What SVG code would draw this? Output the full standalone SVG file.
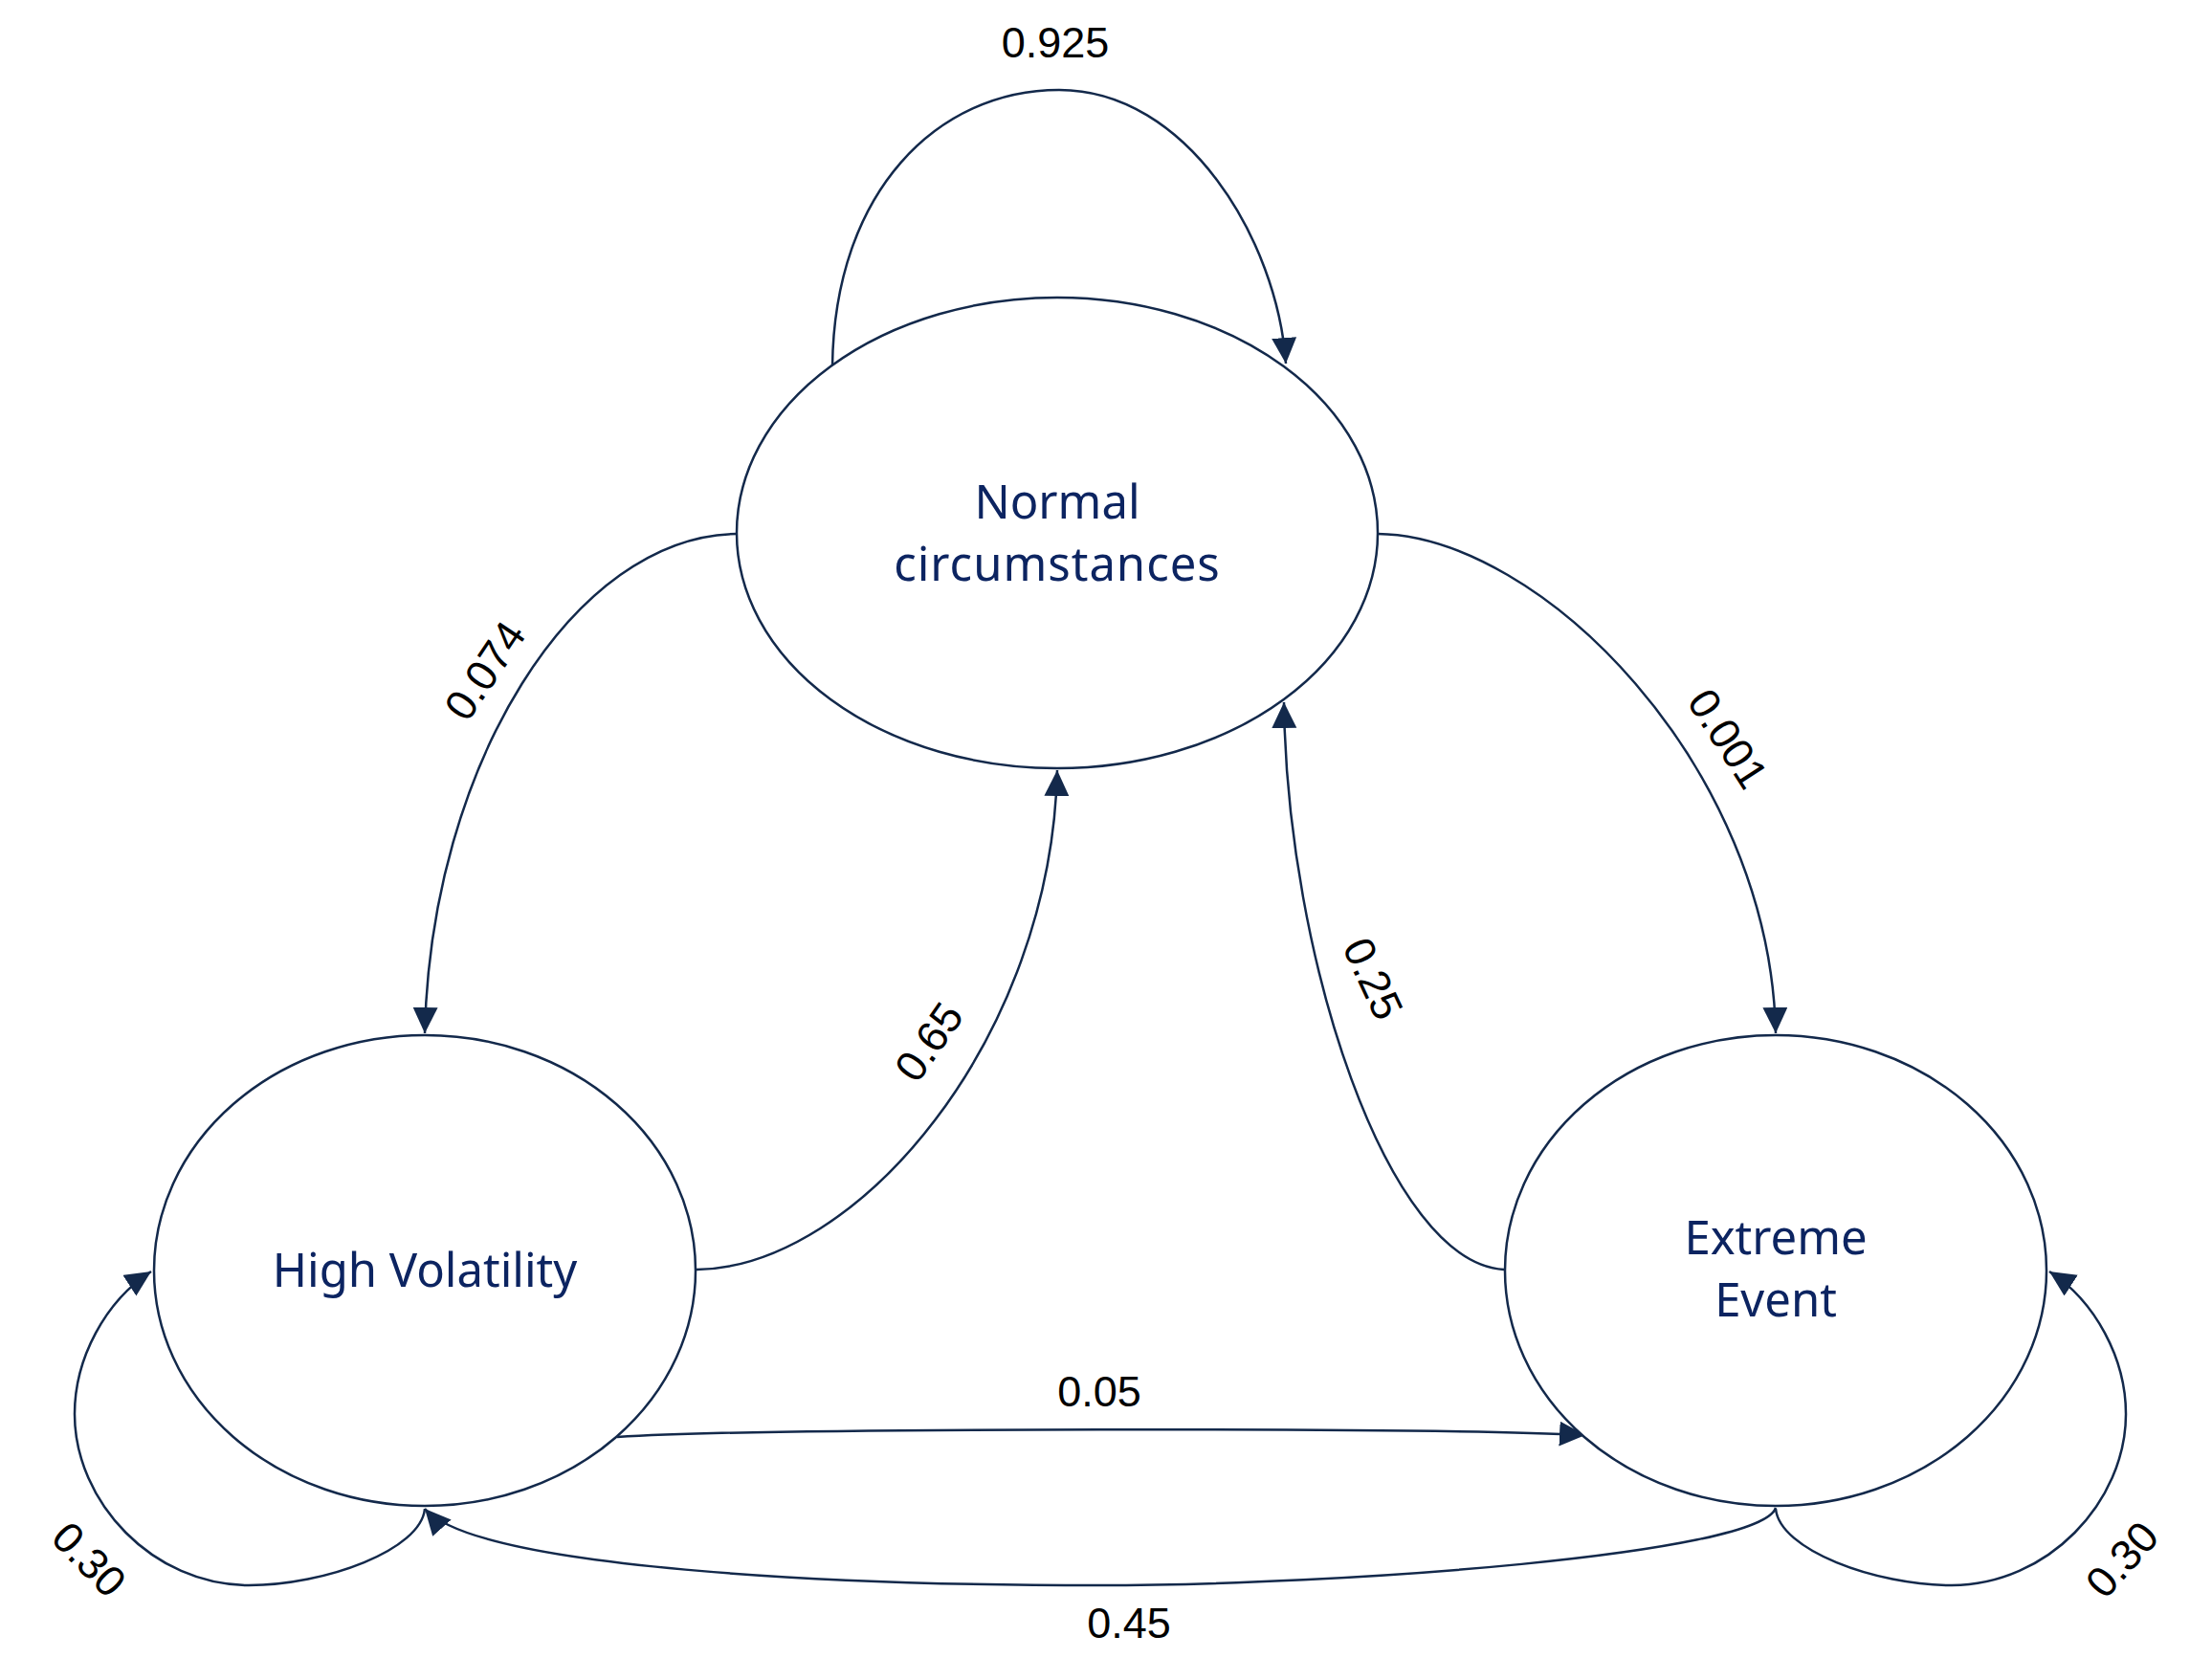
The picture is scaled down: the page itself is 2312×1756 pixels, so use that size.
<svg xmlns="http://www.w3.org/2000/svg" width="2312" height="1756" viewBox="0 0 2312 1756">
<style>
.node{fill:#ffffff;stroke:#13294b;stroke-width:2.5}
.ntext{font-family:"Noto Sans","Liberation Sans",sans-serif;font-size:49px;fill:#0c2461;text-anchor:middle}
.edge{fill:none;stroke:#13294b;stroke-width:2.5}
.elabel{font-family:"Liberation Sans",Arial,sans-serif;font-size:45px;fill:#000000;text-anchor:middle}
</style>
<defs>
<marker id="arrow" markerUnits="userSpaceOnUse" markerWidth="30" markerHeight="30" refX="27" refY="13" orient="auto">
<path d="M0,0 L27,13 L0,26 Z" fill="#13294b"/>
</marker>
</defs>
<rect width="2312" height="1756" fill="#ffffff"/>
<g id="connectors">
<path class="edge" marker-end="url(#arrow)" d="M870,383 C872,200 980,94 1107,94 C1240,94 1335,250 1344,380"/>
<path class="edge" marker-end="url(#arrow)" d="M770,558 C600,560 450,800 444,1080"/>
<path class="edge" marker-end="url(#arrow)" d="M728,1327 C897,1325 1099,1085 1105,805"/>
<path class="edge" marker-end="url(#arrow)" d="M1440,558 C1610,560 1850,800 1856,1080"/>
<path class="edge" marker-end="url(#arrow)" d="M1572,1327 C1450,1320 1345,1000 1342,734"/>
<path class="edge" marker-end="url(#arrow)" d="M645,1502 C800,1492 1500,1492 1657,1500"/>
<path class="edge" marker-end="url(#arrow)" d="M1856,1576 C1840,1625 1400,1657 1147,1657 C880,1657 500,1640 444,1577"/>
<path class="edge" marker-end="url(#arrow)" d="M444,1577 C440,1620 340,1657 260,1657 C160,1657 78,1570 78,1478 C78,1420 110,1360 158,1329"/>
<path class="edge" marker-end="url(#arrow)" d="M1856,1577 C1860,1620 1960,1657 2040,1657 C2140,1657 2222,1570 2222,1478 C2222,1420 2190,1360 2142,1329"/>
<text class="elabel" x="1103" y="60">0.925</text>
<text class="elabel" dominant-baseline="central" transform="translate(507,701) rotate(-56)">0.074</text>
<text class="elabel" dominant-baseline="central" transform="translate(1806,772) rotate(57)">0.001</text>
<text class="elabel" dominant-baseline="central" transform="translate(971,1089) rotate(-55)">0.65</text>
<text class="elabel" dominant-baseline="central" transform="translate(1435,1023) rotate(65)">0.25</text>
<text class="elabel" x="1149" y="1470">0.05</text>
<text class="elabel" x="1180" y="1712">0.45</text>
<text class="elabel" dominant-baseline="central" transform="translate(93,1630) rotate(46)">0.30</text>
<text class="elabel" dominant-baseline="central" transform="translate(2218,1630) rotate(-48)">0.30</text>
</g>
<g id="node-normal">
<ellipse class="node" cx="1105" cy="557" rx="335" ry="246"/>
<text class="ntext" x="1105" y="542">Normal</text>
<text class="ntext" x="1105" y="607" letter-spacing="1">circumstances</text>
</g>
<g id="node-high-volatility">
<ellipse class="node" cx="444" cy="1328" rx="283" ry="246"/>
<text class="ntext" x="444" y="1345">High Volatility</text>
</g>
<g id="node-extreme-event">
<ellipse class="node" cx="1856" cy="1328" rx="283" ry="246"/>
<text class="ntext" x="1856" y="1311">Extreme</text>
<text class="ntext" x="1856" y="1376">Event</text>
</g>
</svg>
